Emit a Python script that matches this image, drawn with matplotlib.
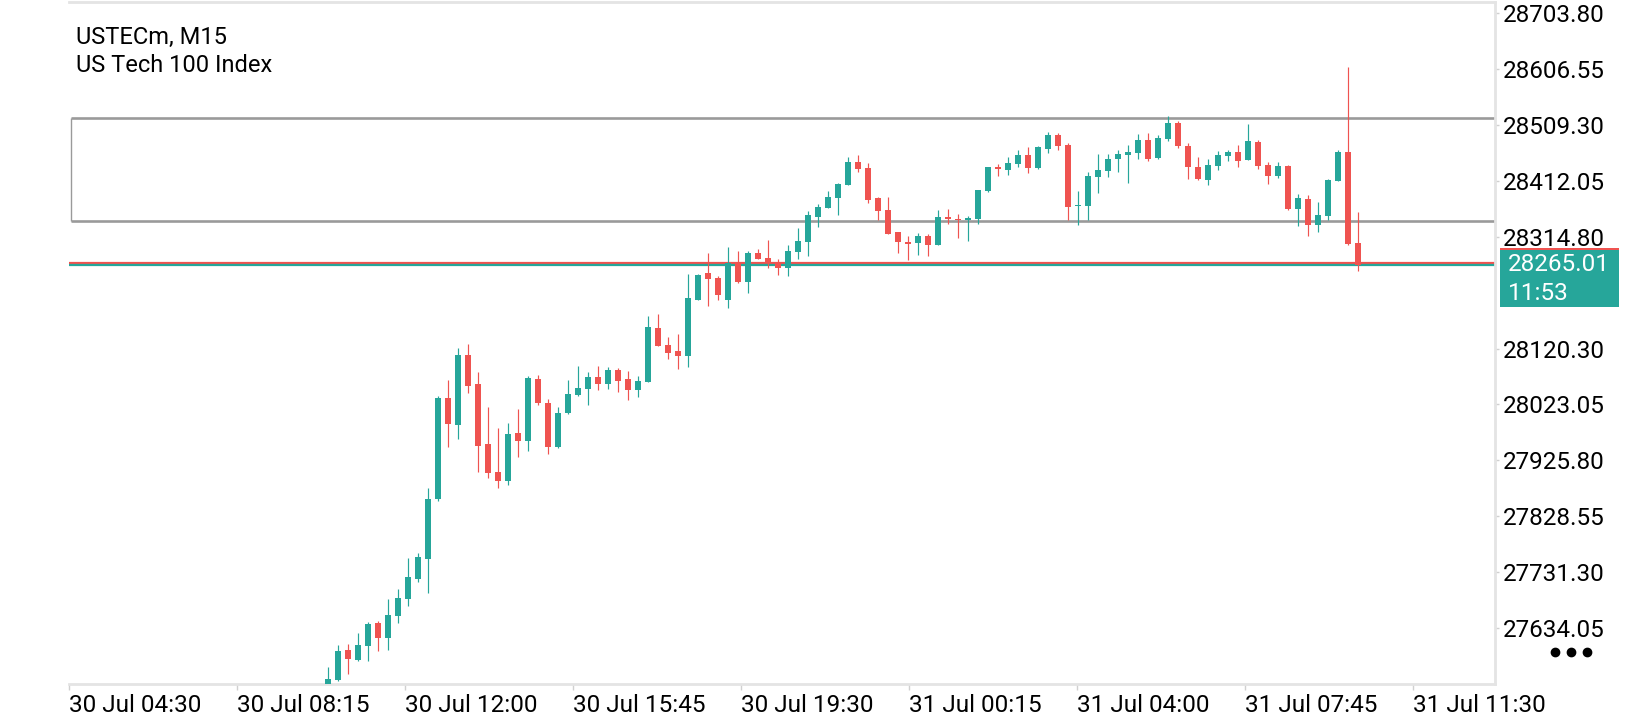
import matplotlib
matplotlib.use("Agg")
import matplotlib.pyplot as plt
from matplotlib.patches import Rectangle
from matplotlib.transforms import IdentityTransform
import numpy as np

plt.rcParams["font.family"] = ["Roboto", "DejaVu Sans"]

SYMBOL = "USTECm, M15"
DESCRIPTION = "US Tech 100 Index"

# M15 candles, oldest visible first
opens = [27528.0, 27543.9, 27596.6, 27578.7, 27603.0, 27643.5, 27616.9, 27655.2, 27684.7, 27720.0,
         27754.8, 27858.6, 28034.3, 27987.3, 28109.1, 28058.6, 27954.3, 27905.6, 27889.9, 27973.4,
         27960.0, 28067.3, 28025.6, 27949.1, 28008.2, 28039.5, 28049.9, 28070.8, 28058.6, 28083.0,
         28067.3, 28048.2, 28062.1, 28156.0, 28126.4, 28116.0, 28107.3, 28204.7, 28251.7, 28243.0,
         28204.7, 28269.0, 28236.0, 28286.4, 28277.7, 28269.0, 28260.3, 28288.2, 28305.6, 28349.0,
         28364.7, 28382.1, 28404.7, 28444.7, 28434.2, 28382.1, 28361.2, 28323.0, 28305.6, 28303.8,
         28316.0, 28300.3, 28349.0, 28346.1, 28343.8, 28345.6, 28394.3, 28436.0, 28430.8, 28441.2,
         28456.9, 28434.2, 28467.3, 28491.6, 28474.2, 28368.2, 28368.2, 28418.6, 28429.0, 28449.9,
         28456.9, 28460.3, 28482.9, 28451.6, 28484.7, 28512.5, 28472.5, 28436.0, 28413.4, 28437.7,
         28455.1, 28462.1, 28448.2, 28479.5, 28439.5, 28420.3, 28437.7, 28362.9, 28380.3, 28335.1,
         28350.8, 28411.6, 28462.1, 28303.8]
highs = [27566.5, 27604.7, 27606.5, 27625.6, 27644.7, 27647.0, 27684.7, 27702.1, 27756.6, 27764.7,
         27877.8, 28037.8, 28065.6, 28121.2, 28128.2, 28079.5, 28018.6, 27982.1, 27990.8, 28015.1,
         28072.5, 28074.3, 28032.5, 28018.6, 28065.6, 28089.9, 28079.5, 28089.9, 28088.2, 28086.5,
         28081.2, 28072.5, 28176.9, 28180.4, 28140.4, 28145.6, 28249.9, 28249.9, 28286.4, 28246.4,
         28296.9, 28289.9, 28289.9, 28293.4, 28309.0, 28276.0, 28300.3, 28329.9, 28359.5, 28371.6,
         28394.3, 28408.2, 28453.4, 28456.9, 28442.9, 28383.8, 28383.8, 28323.0, 28316.0, 28321.2,
         28319.5, 28361.2, 28362.9, 28354.3, 28350.8, 28396.0, 28436.0, 28441.2, 28453.4, 28465.5,
         28470.8, 28472.5, 28496.9, 28495.1, 28477.7, 28394.3, 28427.3, 28458.6, 28458.6, 28465.5,
         28474.2, 28493.4, 28495.1, 28491.6, 28524.7, 28516.0, 28477.7, 28453.4, 28449.9, 28463.8,
         28465.5, 28474.2, 28510.8, 28482.9, 28444.7, 28444.7, 28439.5, 28389.0, 28387.3, 28375.1,
         28415.1, 28465.5, 28609.9, 28357.7]
lows = [27523.0, 27542.2, 27554.3, 27577.5, 27576.9, 27594.8, 27596.0, 27643.0, 27673.1, 27714.8,
        27695.7, 27855.2, 27949.6, 27963.0, 28043.5, 27905.6, 27895.2, 27877.8, 27883.0, 27931.7,
        27942.1, 28022.6, 27936.9, 27947.8, 28006.5, 28037.8, 28022.1, 28048.2, 28049.9, 28044.7,
        28030.8, 28036.0, 28062.1, 28124.7, 28102.1, 28084.7, 28088.2, 28204.7, 28194.8, 28204.7,
        28190.8, 28234.3, 28216.9, 28276.0, 28260.3, 28248.2, 28246.4, 28276.0, 28281.2, 28331.6,
        28364.7, 28352.5, 28404.7, 28427.3, 28373.4, 28343.8, 28319.5, 28286.4, 28274.3, 28283.0,
        28281.2, 28300.3, 28336.9, 28312.5, 28307.3, 28336.9, 28392.5, 28420.3, 28422.1, 28436.0,
        28425.6, 28432.5, 28460.3, 28465.5, 28343.8, 28335.1, 28343.8, 28390.8, 28418.6, 28427.3,
        28408.2, 28449.9, 28446.4, 28449.9, 28481.2, 28469.0, 28415.1, 28413.4, 28404.7, 28430.8,
        28446.4, 28436.0, 28448.2, 28432.5, 28406.4, 28416.9, 28361.2, 28333.4, 28316.0, 28323.0,
        28343.8, 28411.6, 28300.3, 28255.1]
closes = [27545.6, 27594.8, 27580.4, 27604.7, 27641.8, 27616.9, 27656.9, 27687.0, 27723.0, 27757.8,
          27858.6, 28034.3, 27989.6, 28109.1, 28055.7, 27951.3, 27903.9, 27890.5, 27971.7, 27960.0,
          28069.1, 28026.1, 27949.6, 28008.2, 28041.2, 28051.7, 28070.8, 28058.6, 28083.0, 28063.8,
          28048.2, 28063.8, 28157.7, 28124.7, 28112.5, 28107.3, 28208.2, 28248.2, 28241.2, 28213.4,
          28269.0, 28236.0, 28286.4, 28276.0, 28269.0, 28260.3, 28289.9, 28307.3, 28352.5, 28366.4,
          28383.8, 28406.4, 28444.7, 28432.5, 28378.6, 28359.5, 28319.5, 28305.6, 28302.1, 28316.0,
          28300.3, 28349.0, 28345.6, 28343.8, 28347.3, 28396.0, 28436.0, 28432.5, 28442.9, 28456.9,
          28434.2, 28470.8, 28491.6, 28472.5, 28366.4, 28369.9, 28420.3, 28430.8, 28449.9, 28458.6,
          28462.1, 28482.9, 28449.9, 28486.4, 28512.5, 28472.5, 28436.0, 28415.1, 28439.5, 28456.9,
          28462.1, 28446.4, 28481.2, 28437.7, 28420.3, 28437.7, 28362.9, 28382.1, 28335.1, 28352.5,
          28413.4, 28462.1, 28302.1, 28265.01]

# price scale labels on the right (28217.55 hidden behind the price tag)
price_ticks = [28703.80, 28606.55, 28509.30, 28412.05, 28314.80,
               28120.30, 28023.05, 27925.80, 27828.55, 27731.30, 27634.05]

time_labels = ["30 Jul 04:30", "30 Jul 08:15", "30 Jul 12:00", "30 Jul 15:45", "30 Jul 19:30",
               "31 Jul 00:15", "31 Jul 04:00", "31 Jul 07:45", "31 Jul 11:30"]

# drawn objects
zone_top = 28520.7
zone_bottom = 28341.6
zone_start = -25.7
bid = 28265.01
ask = 28269.5
countdown = "11:53"

GREEN = "#26a69a"
RED = "#ef5350"
GREY = "#9a9a9a"
FRAME = "#e4e4e4"


def main():
    W, H = 1640, 720
    fig = plt.figure(figsize=(W / 100, H / 100), dpi=100)
    left, right, bottom, top = 69, 1495, 684, 2
    ax = fig.add_axes([left / W, (H - bottom) / H, (right - left) / W, (bottom - top) / H])

    n = len(opens)
    x = np.arange(n)
    ax.set_xlim(-25.87, 116.73)
    ax.set_ylim(27536.9, 28722.9)

    # zone: thick horizontal edges, thin left edge
    ax.hlines([zone_top, zone_bottom], zone_start, 200, color=GREY, linewidth=1.9, zorder=1)
    ax.vlines(zone_start, zone_bottom, zone_top, color=GREY, linewidth=1.0, zorder=1)
    ax.axhline(ask, color=RED, linewidth=1.6, zorder=1)
    ax.axhline(bid, color=GREEN, linewidth=1.6, zorder=1)

    for i in range(n):
        o, h, l, c = opens[i], highs[i], lows[i], closes[i]
        col = GREEN if c >= o else RED
        ax.vlines(x[i], l, h, color=col, linewidth=0.85, zorder=3)
        body = max(abs(c - o), 1.8)
        ax.bar(x[i], body, bottom=min(o, c), width=0.6, color=col, linewidth=0, zorder=4)

    # frame
    for s in ["top", "right", "bottom"]:
        ax.spines[s].set_color(FRAME)
        ax.spines[s].set_linewidth(2.0)
    ax.spines["left"].set_visible(False)

    # y axis on the right
    ax.yaxis.tick_right()
    ax.set_yticks(price_ticks)
    ax.set_yticklabels([f"{p:.2f}" for p in price_ticks])
    ax.tick_params(axis="y", direction="out", length=3, width=1, color="#d0d0d0",
                   pad=2.5, labelsize=17.5, labelcolor="black")

    # x axis, ticks every 16.8 bars
    xt = [-25.87 + 16.8 * k for k in range(len(time_labels))]
    ax.set_xticks(xt)
    ax.set_xticklabels(time_labels, ha="left")
    ax.tick_params(axis="x", direction="out", length=4, width=1, color="#d0d0d0",
                   pad=3, labelsize=17.5, labelcolor="black")

    # symbol text
    ax.text(7 / (right - left), 1 - 42 / (bottom - top), SYMBOL, transform=ax.transAxes,
            fontsize=17, va="baseline", ha="left", color="black")
    ax.text(7 / (right - left), 1 - 70 / (bottom - top), DESCRIPTION, transform=ax.transAxes,
            fontsize=17, va="baseline", ha="left", color="black")

    # current price label
    y_bid = ax.transData.transform((0, bid))[1]
    fig.patches.append(Rectangle((1500, y_bid - 42), 119, 57, transform=IdentityTransform(),
                                 facecolor=GREEN, edgecolor="none", figure=fig))
    fig.patches.append(Rectangle((1500, y_bid + 15), 119, 2.5, transform=IdentityTransform(),
                                 facecolor=RED, edgecolor="none", figure=fig))
    fig.text(1508 / W, (y_bid + 1) / H, f"{bid:.2f}", fontsize=17.5, color="white",
             va="center", ha="left")
    fig.text(1508 / W, (y_bid - 28) / H, countdown, fontsize=17.5, color="white",
             va="center", ha="left")

    # menu dots
    fig.add_artist(plt.Line2D([1555 / W, 1571 / W, 1587 / W], [(H - 652) / H] * 3,
                              linestyle="none", marker="o", markersize=6, color="black"))

    fig.savefig("out.png", dpi=100, facecolor="white")


if __name__ == "__main__":
    main()
